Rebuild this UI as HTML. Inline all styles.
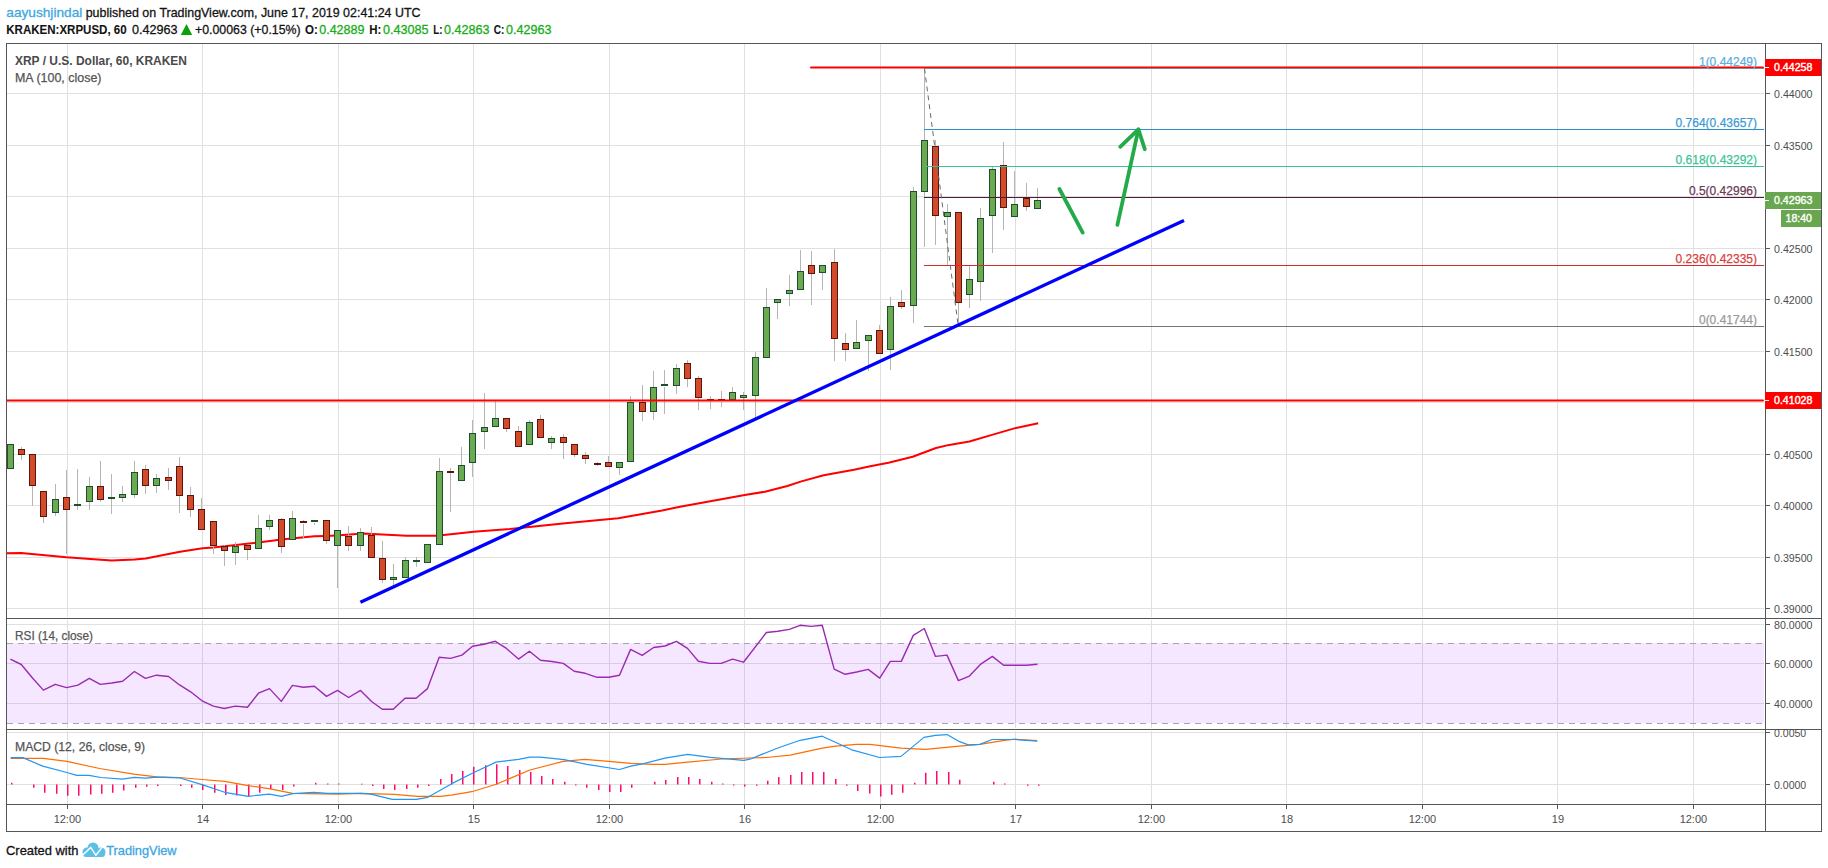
<!DOCTYPE html>
<html><head><meta charset="utf-8"><title>XRPUSD chart</title>
<style>
html,body{margin:0;padding:0;background:#fff;}
body{width:1828px;height:868px;overflow:hidden;position:relative;font-family:"Liberation Sans",sans-serif;}
svg text{font-family:"Liberation Sans",sans-serif;}
</style></head><body>
<svg width="1828" height="868" viewBox="0 0 1828 868" style="position:absolute;left:0;top:0">
<path d="M67.5 44V617M67.5 620V728M67.5 731V804 M202.5 44V617M202.5 620V728M202.5 731V804 M338.5 44V617M338.5 620V728M338.5 731V804 M473.5 44V617M473.5 620V728M473.5 731V804 M609.5 44V617M609.5 620V728M609.5 731V804 M744.5 44V617M744.5 620V728M744.5 731V804 M880.5 44V617M880.5 620V728M880.5 731V804 M1015.5 44V617M1015.5 620V728M1015.5 731V804 M1151.5 44V617M1151.5 620V728M1151.5 731V804 M1286.5 44V617M1286.5 620V728M1286.5 731V804 M1422.5 44V617M1422.5 620V728M1422.5 731V804 M1557.5 44V617M1557.5 620V728M1557.5 731V804 M1693.5 44V617M1693.5 620V728M1693.5 731V804 M7 93.5H1764 M7 145.5H1764 M7 196.5H1764 M7 248.5H1764 M7 299.5H1764 M7 351.5H1764 M7 402.5H1764 M7 454.5H1764 M7 505.5H1764 M7 557.5H1764 M7 608.5H1764 M7 624.5H1764 M7 663.5H1764 M7 703.5H1764 M7 732.5H1764 M7 784.5H1764" stroke="#e0e0e0" stroke-width="1" fill="none" shape-rendering="crispEdges"/>
<rect x="7" y="643" width="1757" height="80" fill="#9915ff" fill-opacity="0.1" shape-rendering="crispEdges"/>
<path d="M7 643.5H1764M7 723.5H1764" stroke="#aaa2b2" stroke-width="1" stroke-dasharray="6 5" fill="none" shape-rendering="crispEdges"/>
<polyline points="6.0,553.2 21.2,553.0 66.4,557.3 90.4,559.0 111.6,560.6 134.7,559.5 145.7,558.4 180.0,551.8 202.6,548.3 213.5,547.4 258.5,542.4 281.4,539.6 314.4,536.3 326.4,535.9 340.0,535.2 363.0,533.4 406.8,535.7 436.8,535.7 473.7,531.7 510.0,529.0 565.3,523.2 618.3,518.2 662.1,510.5 680.0,506.7 744.8,495.1 765.0,491.7 787.3,486.0 801.4,481.4 823.7,475.3 854.0,469.8 870.2,466.2 888.5,462.7 912.7,456.7 936.0,448.0 949.2,444.9 969.4,441.5 993.7,434.4 1016.0,427.9 1038.2,423.3" fill="none" stroke="#ff0000" stroke-width="2" stroke-linejoin="round"/>
<path d="M21.5 447V449 M21.5 454V460 M32.5 485V506 M43.5 516V523 M55.5 484V499 M55.5 513V516 M66.5 470V497 M66.5 510V554 M77.5 469V504 M77.5 506V510 M89.5 477V486 M89.5 502V510 M100.5 461V486 M100.5 500V502 M111.5 474V497 M111.5 499V514 M122.5 486V494 M122.5 498V502 M134.5 461V472 M134.5 495V498 M145.5 465V469 M145.5 485V494 M156.5 474V478 M156.5 485V493 M168.5 468V477 M168.5 480V490 M179.5 457V466 M179.5 495V513 M190.5 487V495 M190.5 510V517 M201.5 498V509 M213.5 546V554 M224.5 545V546 M224.5 551V566 M235.5 542V546 M235.5 552V565 M247.5 550V560 M258.5 515V528 M269.5 515V520 M269.5 527V530 M281.5 518V519 M281.5 547V553 M292.5 511V518 M303.5 520V521 M303.5 524V539 M314.5 523V525 M326.5 540V544 M337.5 546V588 M348.5 526V536 M348.5 546V551 M360.5 528V532 M360.5 546V551 M371.5 527V535 M382.5 541V558 M382.5 579V583 M393.5 564V577 M393.5 580V585 M405.5 557V560 M416.5 557V560 M416.5 562V567 M439.5 458V471 M450.5 468V471 M450.5 473V512 M461.5 447V465 M472.5 420V433 M472.5 463V477 M484.5 393V427 M484.5 432V449 M495.5 401V418 M506.5 429V432 M518.5 426V431 M529.5 420V422 M540.5 415V419 M551.5 436V438 M551.5 442V449 M563.5 434V437 M563.5 443V459 M574.5 454V457 M585.5 452V455 M585.5 459V464 M597.5 462V463 M597.5 465V466 M608.5 456V462 M619.5 467V475 M630.5 396V402 M642.5 385V402 M642.5 411V421 M653.5 371V387 M653.5 411V420 M664.5 370V384 M664.5 387V414 M676.5 364V368 M676.5 385V394 M687.5 360V363 M687.5 378V387 M698.5 376V378 M698.5 398V410 M710.5 396V399 M710.5 401V409 M721.5 391V400 M721.5 402V407 M732.5 387V392 M743.5 392V395 M743.5 398V410 M755.5 352V357 M755.5 396V418 M766.5 288V307 M777.5 302V319 M789.5 275V290 M789.5 294V306 M800.5 250V271 M811.5 251V265 M811.5 273V305 M822.5 272V290 M834.5 249V262 M834.5 339V361 M845.5 333V343 M845.5 350V361 M856.5 320V342 M868.5 341V371 M879.5 325V330 M890.5 297V306 M890.5 350V370 M901.5 290V302 M901.5 306V309 M913.5 187V191 M913.5 306V323 M924.5 68V140 M924.5 192V247 M935.5 140V146 M935.5 216V245 M947.5 204V212 M947.5 216V266 M958.5 302V327 M969.5 266V279 M969.5 294V308 M980.5 208V218 M980.5 282V301 M992.5 167V169 M992.5 216V253 M1003.5 142V165 M1003.5 208V230 M1014.5 171V204 M1026.5 183V198 M1026.5 206V211 M1037.5 188V200" stroke="#b5b5b5" stroke-width="1" fill="none" shape-rendering="crispEdges"/>
<rect x="7.5" y="444.5" width="6" height="24" fill="#6aab52" stroke="#1f4d2d" stroke-width="1" shape-rendering="crispEdges"/>
<rect x="18.5" y="449.5" width="6" height="5" fill="#d24b2b" stroke="#5c140d" stroke-width="1" shape-rendering="crispEdges"/>
<rect x="29.5" y="454.5" width="6" height="31" fill="#d24b2b" stroke="#5c140d" stroke-width="1" shape-rendering="crispEdges"/>
<rect x="40.5" y="491.5" width="6" height="25" fill="#d24b2b" stroke="#5c140d" stroke-width="1" shape-rendering="crispEdges"/>
<rect x="52.5" y="499.5" width="6" height="13" fill="#6aab52" stroke="#1f4d2d" stroke-width="1" shape-rendering="crispEdges"/>
<rect x="63.5" y="497.5" width="6" height="12" fill="#d24b2b" stroke="#5c140d" stroke-width="1" shape-rendering="crispEdges"/>
<rect x="74" y="504" width="7" height="2" fill="#1f4d2d" shape-rendering="crispEdges"/>
<rect x="86.5" y="486.5" width="6" height="15" fill="#6aab52" stroke="#1f4d2d" stroke-width="1" shape-rendering="crispEdges"/>
<rect x="97.5" y="486.5" width="6" height="13" fill="#d24b2b" stroke="#5c140d" stroke-width="1" shape-rendering="crispEdges"/>
<rect x="108" y="497" width="7" height="2" fill="#1f4d2d" shape-rendering="crispEdges"/>
<rect x="119.5" y="494.5" width="6" height="3" fill="#6aab52" stroke="#1f4d2d" stroke-width="1" shape-rendering="crispEdges"/>
<rect x="131.5" y="472.5" width="6" height="22" fill="#6aab52" stroke="#1f4d2d" stroke-width="1" shape-rendering="crispEdges"/>
<rect x="142.5" y="469.5" width="6" height="16" fill="#d24b2b" stroke="#5c140d" stroke-width="1" shape-rendering="crispEdges"/>
<rect x="153.5" y="478.5" width="6" height="7" fill="#6aab52" stroke="#1f4d2d" stroke-width="1" shape-rendering="crispEdges"/>
<rect x="165.5" y="477.5" width="6" height="3" fill="#d24b2b" stroke="#5c140d" stroke-width="1" shape-rendering="crispEdges"/>
<rect x="176.5" y="466.5" width="6" height="29" fill="#d24b2b" stroke="#5c140d" stroke-width="1" shape-rendering="crispEdges"/>
<rect x="187.5" y="495.5" width="6" height="14" fill="#d24b2b" stroke="#5c140d" stroke-width="1" shape-rendering="crispEdges"/>
<rect x="198.5" y="509.5" width="6" height="20" fill="#d24b2b" stroke="#5c140d" stroke-width="1" shape-rendering="crispEdges"/>
<rect x="210.5" y="521.5" width="6" height="24" fill="#d24b2b" stroke="#5c140d" stroke-width="1" shape-rendering="crispEdges"/>
<rect x="221.5" y="546.5" width="6" height="4" fill="#d24b2b" stroke="#5c140d" stroke-width="1" shape-rendering="crispEdges"/>
<rect x="232.5" y="546.5" width="6" height="6" fill="#6aab52" stroke="#1f4d2d" stroke-width="1" shape-rendering="crispEdges"/>
<rect x="244.5" y="545.5" width="6" height="4" fill="#d24b2b" stroke="#5c140d" stroke-width="1" shape-rendering="crispEdges"/>
<rect x="255.5" y="528.5" width="6" height="20" fill="#6aab52" stroke="#1f4d2d" stroke-width="1" shape-rendering="crispEdges"/>
<rect x="266.5" y="520.5" width="6" height="6" fill="#6aab52" stroke="#1f4d2d" stroke-width="1" shape-rendering="crispEdges"/>
<rect x="278.5" y="519.5" width="6" height="27" fill="#d24b2b" stroke="#5c140d" stroke-width="1" shape-rendering="crispEdges"/>
<rect x="289.5" y="518.5" width="6" height="21" fill="#6aab52" stroke="#1f4d2d" stroke-width="1" shape-rendering="crispEdges"/>
<rect x="300" y="521" width="7" height="2" fill="#5c140d" shape-rendering="crispEdges"/>
<rect x="311" y="520" width="7" height="2" fill="#1f4d2d" shape-rendering="crispEdges"/>
<rect x="323.5" y="520.5" width="6" height="20" fill="#d24b2b" stroke="#5c140d" stroke-width="1" shape-rendering="crispEdges"/>
<rect x="334.5" y="530.5" width="6" height="15" fill="#6aab52" stroke="#1f4d2d" stroke-width="1" shape-rendering="crispEdges"/>
<rect x="345.5" y="536.5" width="6" height="9" fill="#d24b2b" stroke="#5c140d" stroke-width="1" shape-rendering="crispEdges"/>
<rect x="357.5" y="532.5" width="6" height="13" fill="#6aab52" stroke="#1f4d2d" stroke-width="1" shape-rendering="crispEdges"/>
<rect x="368.5" y="535.5" width="6" height="22" fill="#d24b2b" stroke="#5c140d" stroke-width="1" shape-rendering="crispEdges"/>
<rect x="379.5" y="558.5" width="6" height="21" fill="#d24b2b" stroke="#5c140d" stroke-width="1" shape-rendering="crispEdges"/>
<rect x="390.5" y="577.5" width="6" height="2" fill="#6aab52" stroke="#1f4d2d" stroke-width="1" shape-rendering="crispEdges"/>
<rect x="402.5" y="560.5" width="6" height="17" fill="#6aab52" stroke="#1f4d2d" stroke-width="1" shape-rendering="crispEdges"/>
<rect x="413" y="560" width="7" height="2" fill="#1f4d2d" shape-rendering="crispEdges"/>
<rect x="424.5" y="544.5" width="6" height="18" fill="#6aab52" stroke="#1f4d2d" stroke-width="1" shape-rendering="crispEdges"/>
<rect x="436.5" y="471.5" width="6" height="73" fill="#6aab52" stroke="#1f4d2d" stroke-width="1" shape-rendering="crispEdges"/>
<rect x="447" y="471" width="7" height="2" fill="#5c140d" shape-rendering="crispEdges"/>
<rect x="458.5" y="465.5" width="6" height="15" fill="#6aab52" stroke="#1f4d2d" stroke-width="1" shape-rendering="crispEdges"/>
<rect x="469.5" y="433.5" width="6" height="29" fill="#6aab52" stroke="#1f4d2d" stroke-width="1" shape-rendering="crispEdges"/>
<rect x="481.5" y="427.5" width="6" height="4" fill="#6aab52" stroke="#1f4d2d" stroke-width="1" shape-rendering="crispEdges"/>
<rect x="492.5" y="418.5" width="6" height="8" fill="#6aab52" stroke="#1f4d2d" stroke-width="1" shape-rendering="crispEdges"/>
<rect x="503.5" y="418.5" width="6" height="10" fill="#d24b2b" stroke="#5c140d" stroke-width="1" shape-rendering="crispEdges"/>
<rect x="515.5" y="431.5" width="6" height="15" fill="#d24b2b" stroke="#5c140d" stroke-width="1" shape-rendering="crispEdges"/>
<rect x="526.5" y="422.5" width="6" height="22" fill="#6aab52" stroke="#1f4d2d" stroke-width="1" shape-rendering="crispEdges"/>
<rect x="537.5" y="419.5" width="6" height="18" fill="#d24b2b" stroke="#5c140d" stroke-width="1" shape-rendering="crispEdges"/>
<rect x="548.5" y="438.5" width="6" height="4" fill="#6aab52" stroke="#1f4d2d" stroke-width="1" shape-rendering="crispEdges"/>
<rect x="560.5" y="437.5" width="6" height="5" fill="#d24b2b" stroke="#5c140d" stroke-width="1" shape-rendering="crispEdges"/>
<rect x="571.5" y="444.5" width="6" height="10" fill="#d24b2b" stroke="#5c140d" stroke-width="1" shape-rendering="crispEdges"/>
<rect x="582.5" y="455.5" width="6" height="3" fill="#d24b2b" stroke="#5c140d" stroke-width="1" shape-rendering="crispEdges"/>
<rect x="594" y="463" width="7" height="2" fill="#5c140d" shape-rendering="crispEdges"/>
<rect x="605.5" y="462.5" width="6" height="4" fill="#d24b2b" stroke="#5c140d" stroke-width="1" shape-rendering="crispEdges"/>
<rect x="616.5" y="462.5" width="6" height="5" fill="#6aab52" stroke="#1f4d2d" stroke-width="1" shape-rendering="crispEdges"/>
<rect x="627.5" y="402.5" width="6" height="59" fill="#6aab52" stroke="#1f4d2d" stroke-width="1" shape-rendering="crispEdges"/>
<rect x="639.5" y="402.5" width="6" height="9" fill="#d24b2b" stroke="#5c140d" stroke-width="1" shape-rendering="crispEdges"/>
<rect x="650.5" y="387.5" width="6" height="24" fill="#6aab52" stroke="#1f4d2d" stroke-width="1" shape-rendering="crispEdges"/>
<rect x="661" y="384" width="7" height="2" fill="#1f4d2d" shape-rendering="crispEdges"/>
<rect x="673.5" y="368.5" width="6" height="17" fill="#6aab52" stroke="#1f4d2d" stroke-width="1" shape-rendering="crispEdges"/>
<rect x="684.5" y="363.5" width="6" height="15" fill="#d24b2b" stroke="#5c140d" stroke-width="1" shape-rendering="crispEdges"/>
<rect x="695.5" y="378.5" width="6" height="19" fill="#d24b2b" stroke="#5c140d" stroke-width="1" shape-rendering="crispEdges"/>
<rect x="707" y="399" width="7" height="2" fill="#5c140d" shape-rendering="crispEdges"/>
<rect x="718" y="399" width="7" height="2" fill="#5c140d" shape-rendering="crispEdges"/>
<rect x="729.5" y="392.5" width="6" height="7" fill="#6aab52" stroke="#1f4d2d" stroke-width="1" shape-rendering="crispEdges"/>
<rect x="740.5" y="395.5" width="6" height="2" fill="#6aab52" stroke="#1f4d2d" stroke-width="1" shape-rendering="crispEdges"/>
<rect x="752.5" y="357.5" width="6" height="38" fill="#6aab52" stroke="#1f4d2d" stroke-width="1" shape-rendering="crispEdges"/>
<rect x="763.5" y="307.5" width="6" height="50" fill="#6aab52" stroke="#1f4d2d" stroke-width="1" shape-rendering="crispEdges"/>
<rect x="774.5" y="299.5" width="6" height="3" fill="#6aab52" stroke="#1f4d2d" stroke-width="1" shape-rendering="crispEdges"/>
<rect x="786.5" y="290.5" width="6" height="3" fill="#6aab52" stroke="#1f4d2d" stroke-width="1" shape-rendering="crispEdges"/>
<rect x="797.5" y="271.5" width="6" height="18" fill="#6aab52" stroke="#1f4d2d" stroke-width="1" shape-rendering="crispEdges"/>
<rect x="808.5" y="265.5" width="6" height="8" fill="#d24b2b" stroke="#5c140d" stroke-width="1" shape-rendering="crispEdges"/>
<rect x="819.5" y="265.5" width="6" height="7" fill="#6aab52" stroke="#1f4d2d" stroke-width="1" shape-rendering="crispEdges"/>
<rect x="831.5" y="262.5" width="6" height="76" fill="#d24b2b" stroke="#5c140d" stroke-width="1" shape-rendering="crispEdges"/>
<rect x="842.5" y="343.5" width="6" height="6" fill="#d24b2b" stroke="#5c140d" stroke-width="1" shape-rendering="crispEdges"/>
<rect x="853.5" y="342.5" width="6" height="6" fill="#6aab52" stroke="#1f4d2d" stroke-width="1" shape-rendering="crispEdges"/>
<rect x="865.5" y="335.5" width="6" height="5" fill="#6aab52" stroke="#1f4d2d" stroke-width="1" shape-rendering="crispEdges"/>
<rect x="876.5" y="330.5" width="6" height="23" fill="#d24b2b" stroke="#5c140d" stroke-width="1" shape-rendering="crispEdges"/>
<rect x="887.5" y="306.5" width="6" height="43" fill="#6aab52" stroke="#1f4d2d" stroke-width="1" shape-rendering="crispEdges"/>
<rect x="898.5" y="302.5" width="6" height="4" fill="#d24b2b" stroke="#5c140d" stroke-width="1" shape-rendering="crispEdges"/>
<rect x="910.5" y="191.5" width="6" height="114" fill="#6aab52" stroke="#1f4d2d" stroke-width="1" shape-rendering="crispEdges"/>
<rect x="921.5" y="140.5" width="6" height="51" fill="#6aab52" stroke="#1f4d2d" stroke-width="1" shape-rendering="crispEdges"/>
<rect x="932.5" y="146.5" width="6" height="69" fill="#d24b2b" stroke="#5c140d" stroke-width="1" shape-rendering="crispEdges"/>
<rect x="944.5" y="212.5" width="6" height="4" fill="#6aab52" stroke="#1f4d2d" stroke-width="1" shape-rendering="crispEdges"/>
<rect x="955.5" y="212.5" width="6" height="90" fill="#d24b2b" stroke="#5c140d" stroke-width="1" shape-rendering="crispEdges"/>
<rect x="966.5" y="279.5" width="6" height="15" fill="#6aab52" stroke="#1f4d2d" stroke-width="1" shape-rendering="crispEdges"/>
<rect x="977.5" y="218.5" width="6" height="63" fill="#6aab52" stroke="#1f4d2d" stroke-width="1" shape-rendering="crispEdges"/>
<rect x="989.5" y="169.5" width="6" height="46" fill="#6aab52" stroke="#1f4d2d" stroke-width="1" shape-rendering="crispEdges"/>
<rect x="1000.5" y="165.5" width="6" height="42" fill="#d24b2b" stroke="#5c140d" stroke-width="1" shape-rendering="crispEdges"/>
<rect x="1011.5" y="204.5" width="6" height="12" fill="#6aab52" stroke="#1f4d2d" stroke-width="1" shape-rendering="crispEdges"/>
<rect x="1023.5" y="198.5" width="6" height="8" fill="#d24b2b" stroke="#5c140d" stroke-width="1" shape-rendering="crispEdges"/>
<rect x="1034.5" y="200.5" width="6" height="8" fill="#6aab52" stroke="#1f4d2d" stroke-width="1" shape-rendering="crispEdges"/>
<path d="M811 67.5H1763M7 400.5H1763" stroke="#ff0000" stroke-width="2" stroke-linecap="round" fill="none"/>
<path d="M924 68.5H1764" stroke="#8a8a8a" stroke-width="1" shape-rendering="crispEdges"/>
<path d="M924 129.5H1764" stroke="#2a8fd0" stroke-width="1" shape-rendering="crispEdges"/>
<path d="M924 166.5H1764" stroke="#36c495" stroke-width="1" shape-rendering="crispEdges"/>
<path d="M924 197.5H1764" stroke="#4e1b3a" stroke-width="1" shape-rendering="crispEdges"/>
<path d="M924 265.5H1764" stroke="#d42a2a" stroke-width="1" shape-rendering="crispEdges"/>
<path d="M924 326.5H1764" stroke="#757575" stroke-width="1" shape-rendering="crispEdges"/>
<path d="M924.5 68.5L958.3 326.5" stroke="#6a6a6a" stroke-width="1" stroke-dasharray="5 4" fill="none"/>
<path d="M360.4 602.2L1184 220.4" stroke="#0000ff" stroke-width="3.3" fill="none"/>
<g stroke="#22ab48" stroke-width="3.8" stroke-linecap="round" stroke-linejoin="round" fill="none"><path d="M1059.4 189L1082.7 232.6"/><path d="M1117.4 224.8L1138.4 129.4"/><path d="M1120.2 146.8L1138.4 129.4L1144.8 149.2"/></g>
<polyline points="10.4,659.1 21.3,664.5 32.7,678.3 43.4,690.1 55.2,684.3 66.6,687.6 77.9,685.1 89.3,678.3 100.3,684.4 111.7,683.0 122.6,681.2 134.4,671.5 145.4,678.3 156.5,675.2 168.6,676.5 179.2,684.7 190.6,691.8 202.0,700.8 213.4,706.1 224.3,708.5 235.4,706.1 247.5,707.2 258.5,693.2 269.5,688.6 281.3,701.4 292.4,685.4 303.3,687.3 314.4,686.3 326.5,696.4 337.5,690.4 348.6,697.5 360.5,690.4 371.6,701.5 382.3,709.3 393.2,709.3 405.0,698.2 416.1,698.2 427.5,688.6 439.2,657.3 450.6,658.4 461.9,655.1 472.6,646.3 484.0,644.2 495.4,641.3 506.4,648.4 518.5,659.1 529.4,651.3 540.5,660.3 551.9,661.5 563.3,663.4 574.2,671.2 585.3,673.3 597.1,677.3 608.8,677.3 619.5,675.2 630.6,649.4 642.2,655.3 653.6,647.5 665.0,646.0 676.4,641.3 687.5,648.4 698.4,661.2 709.8,663.4 721.2,663.4 732.6,659.1 743.5,662.2 766.4,632.5 777.9,631.3 789.4,629.4 800.1,625.3 811.1,626.4 822.2,625.3 834.2,669.1 845.2,674.3 856.7,672.0 868.2,669.4 879.7,678.1 890.3,661.4 901.3,661.4 913.3,635.4 924.3,628.5 935.5,656.4 947.0,655.1 958.4,680.6 969.4,676.1 981.1,663.8 992.4,656.4 1003.6,665.3 1014.6,665.3 1026.5,665.3 1037.5,664.2" fill="none" stroke="#9a2bb0" stroke-width="1.4" stroke-linejoin="round"/>
<path d="M11.75 784.5V782.8 M33.75 784.5V787.7 M44.75 784.5V792.7 M56.75 784.5V793.7 M67.75 784.5V795.8 M78.75 784.5V795.8 M90.75 784.5V794.6 M101.75 784.5V793.7 M112.75 784.5V792.7 M123.75 784.5V790.6 M135.75 784.5V787.7 M146.75 784.5V786.7 M157.75 784.5V785.9 M180.75 784.5V785.9 M191.75 784.5V787.7 M202.75 784.5V789.9 M214.75 784.5V792.7 M225.75 784.5V794.9 M236.75 784.5V795.6 M248.75 784.5V796.3 M259.75 784.5V792.7 M270.75 784.5V789.2 M282.75 784.5V789.9 M293.75 784.5V786.6 M315.75 784.5V782.8 M327.75 784.5V783.5 M338.75 784.5V783.5 M361.75 784.5V783.8 M372.75 784.5V785.9 M383.75 784.5V788.9 M394.75 784.5V789.9 M406.75 784.5V788.9 M417.75 784.5V787.7 M428.75 784.5V785.9 M440.75 784.5V778.9 M451.75 784.5V773.9 M462.75 784.5V771.0 M473.75 784.5V766.8 M485.75 784.5V765.3 M496.75 784.5V764.3 M507.75 784.5V766.0 M519.75 784.5V770.0 M530.75 784.5V772.1 M541.75 784.5V776.1 M552.75 784.5V778.9 M564.75 784.5V781.8 M575.75 784.5V785.5 M586.75 784.5V787.7 M598.75 784.5V789.9 M609.75 784.5V792.0 M620.75 784.5V792.0 M631.75 784.5V787.7 M654.75 784.5V781.8 M665.75 784.5V780.0 M677.75 784.5V777.1 M688.75 784.5V777.1 M699.75 784.5V778.9 M711.75 784.5V781.8 M722.75 784.5V783.5 M733.75 784.5V785.5 M744.75 784.5V786.6 M756.75 784.5V785.8 M767.75 784.5V780.8 M778.75 784.5V776.9 M790.75 784.5V775.1 M801.75 784.5V772.0 M812.75 784.5V772.0 M823.75 784.5V772.0 M835.75 784.5V778.9 M846.75 784.5V785.8 M857.75 784.5V790.9 M869.75 784.5V793.6 M880.75 784.5V796.6 M891.75 784.5V794.8 M902.75 784.5V792.8 M914.75 784.5V782.7 M925.75 784.5V772.8 M936.75 784.5V771.0 M948.75 784.5V772.0 M959.75 784.5V779.7 M993.75 784.5V781.8 M1004.75 784.5V783.5 M1027.75 784.5V785.8 M1038.75 784.5V785.8" stroke="#ff0a6c" stroke-width="1.5" fill="none"/>
<polyline points="10.7,758.3 43.4,758.3 66.9,761.4 99.6,768.5 133.7,774.2 156.5,776.8 179.2,777.5 202.0,779.5 224.7,781.3 248.2,785.6 270.3,788.9 292.7,793.4 338.5,794.1 360.9,793.4 394.4,794.4 417.4,796.3 440.3,796.3 451.3,795.1 473.3,791.3 496.3,784.2 529.9,770.0 563.3,761.4 584.6,759.3 608.8,761.4 630.9,763.3 653.6,764.3 665.0,764.3 687.8,762.1 721.9,759.0 750.0,758.0 766.4,757.5 790.2,755.1 822.2,748.2 835.3,746.1 856.7,744.4 869.8,744.4 901.0,748.2 925.3,749.3 959.3,746.1 979.8,744.4 1004.4,740.3 1015.0,739.2 1037.2,740.6" fill="none" stroke="#ff6d00" stroke-width="1.2" stroke-linejoin="round"/>
<polyline points="10.7,757.6 22.8,757.6 42.7,766.1 66.9,772.5 76.8,775.4 88.9,775.4 101.0,777.5 122.3,779.2 134.4,777.4 145.8,778.2 156.5,777.1 179.2,777.8 202.0,784.6 226.2,792.7 248.2,796.3 269.2,794.1 281.3,796.3 292.7,793.7 314.0,792.4 327.5,793.4 360.9,793.4 370.9,794.1 392.2,799.4 416.4,799.4 427.8,797.3 451.3,783.9 473.3,772.8 496.0,762.1 518.5,759.3 529.9,757.2 540.5,757.2 564.0,759.6 586.8,764.3 619.5,769.5 630.9,766.1 643.7,763.6 665.0,758.2 687.8,754.3 710.5,757.4 743.9,760.4 750.0,759.2 777.1,748.2 800.1,740.3 822.2,736.2 851.8,749.8 879.7,757.5 901.0,756.4 924.0,737.4 935.5,735.4 947.0,734.6 958.4,741.1 968.3,744.9 979.8,744.4 992.1,739.5 1014.2,739.5 1037.2,741.1" fill="none" stroke="#2196f3" stroke-width="1.2" stroke-linejoin="round"/>
<path d="M6.5 43.5H1821.5V831.5H6.5Z M1765.5 43V832 M6 618.5H1822 M6 729.5H1822 M6 804.5H1822" stroke="#555555" stroke-width="1" fill="none" shape-rendering="crispEdges"/>
<path d="M1766 93.5H1770 M1766 145.5H1770 M1766 248.5H1770 M1766 299.5H1770 M1766 351.5H1770 M1766 454.5H1770 M1766 505.5H1770 M1766 557.5H1770 M1766 608.5H1770 M1766 624.5H1770 M1766 663.5H1770 M1766 703.5H1770 M1766 732.5H1770 M1766 784.5H1770" stroke="#555555" stroke-width="1" shape-rendering="crispEdges"/>
<text x="1774" y="97.5" font-size="11" fill="#4d4d4d" textLength="38.5" lengthAdjust="spacingAndGlyphs">0.44000</text>
<text x="1774" y="149.5" font-size="11" fill="#4d4d4d" textLength="38.5" lengthAdjust="spacingAndGlyphs">0.43500</text>
<text x="1774" y="252.5" font-size="11" fill="#4d4d4d" textLength="38.5" lengthAdjust="spacingAndGlyphs">0.42500</text>
<text x="1774" y="303.5" font-size="11" fill="#4d4d4d" textLength="38.5" lengthAdjust="spacingAndGlyphs">0.42000</text>
<text x="1774" y="355.5" font-size="11" fill="#4d4d4d" textLength="38.5" lengthAdjust="spacingAndGlyphs">0.41500</text>
<text x="1774" y="458.5" font-size="11" fill="#4d4d4d" textLength="38.5" lengthAdjust="spacingAndGlyphs">0.40500</text>
<text x="1774" y="509.5" font-size="11" fill="#4d4d4d" textLength="38.5" lengthAdjust="spacingAndGlyphs">0.40000</text>
<text x="1774" y="561.5" font-size="11" fill="#4d4d4d" textLength="38.5" lengthAdjust="spacingAndGlyphs">0.39500</text>
<text x="1774" y="612.5" font-size="11" fill="#4d4d4d" textLength="38.5" lengthAdjust="spacingAndGlyphs">0.39000</text>
<text x="1774" y="628.5" font-size="11" fill="#4d4d4d" textLength="38.5" lengthAdjust="spacingAndGlyphs">80.0000</text>
<text x="1774" y="667.5" font-size="11" fill="#4d4d4d" textLength="38.5" lengthAdjust="spacingAndGlyphs">60.0000</text>
<text x="1774" y="707.5" font-size="11" fill="#4d4d4d" textLength="38.5" lengthAdjust="spacingAndGlyphs">40.0000</text>
<text x="1774" y="736.5" font-size="11" fill="#4d4d4d" textLength="32.2" lengthAdjust="spacingAndGlyphs">0.0050</text>
<text x="1774" y="788.5" font-size="11" fill="#4d4d4d" textLength="32.2" lengthAdjust="spacingAndGlyphs">0.0000</text>
<rect x="1765" y="59" width="56" height="17" fill="#ff0000"/><path d="M1765 67.5H1769" stroke="#fff" stroke-width="1" shape-rendering="crispEdges"/><text x="1774" y="70.5" font-size="11" fill="#fff" stroke="#fff" stroke-width="0.4" textLength="38.4" lengthAdjust="spacingAndGlyphs">0.44258</text>
<rect x="1765" y="392" width="56" height="17" fill="#ff0000"/><path d="M1765 400.5H1769" stroke="#fff" stroke-width="1" shape-rendering="crispEdges"/><text x="1774" y="403.5" font-size="11" fill="#fff" stroke="#fff" stroke-width="0.4" textLength="38.4" lengthAdjust="spacingAndGlyphs">0.41028</text>
<rect x="1765" y="192" width="56" height="17" fill="#68a74f"/><path d="M1765 200.5H1769" stroke="#fff" stroke-width="1" shape-rendering="crispEdges"/><text x="1774" y="203.5" font-size="11" fill="#fff" stroke="#fff" stroke-width="0.4" textLength="38.4" lengthAdjust="spacingAndGlyphs">0.42963</text>
<rect x="1781" y="210" width="40" height="17" fill="#68a74f"/><text x="1785.5" y="221.5" font-size="11" fill="#fff" stroke="#fff" stroke-width="0.4" textLength="26.5" lengthAdjust="spacingAndGlyphs">18:40</text>
<text x="67.4" y="823" font-size="11" fill="#4d4d4d" text-anchor="middle">12:00</text><text x="202.9" y="823" font-size="11" fill="#4d4d4d" text-anchor="middle">14</text><text x="338.4" y="823" font-size="11" fill="#4d4d4d" text-anchor="middle">12:00</text><text x="473.9" y="823" font-size="11" fill="#4d4d4d" text-anchor="middle">15</text><text x="609.4" y="823" font-size="11" fill="#4d4d4d" text-anchor="middle">12:00</text><text x="744.9" y="823" font-size="11" fill="#4d4d4d" text-anchor="middle">16</text><text x="880.4" y="823" font-size="11" fill="#4d4d4d" text-anchor="middle">12:00</text><text x="1015.9" y="823" font-size="11" fill="#4d4d4d" text-anchor="middle">17</text><text x="1151.4" y="823" font-size="11" fill="#4d4d4d" text-anchor="middle">12:00</text><text x="1286.9" y="823" font-size="11" fill="#4d4d4d" text-anchor="middle">18</text><text x="1422.4" y="823" font-size="11" fill="#4d4d4d" text-anchor="middle">12:00</text><text x="1557.9" y="823" font-size="11" fill="#4d4d4d" text-anchor="middle">19</text><text x="1693.4" y="823" font-size="11" fill="#4d4d4d" text-anchor="middle">12:00</text><path d="M67.5 805V809 M202.5 805V809 M338.5 805V809 M473.5 805V809 M609.5 805V809 M744.5 805V809 M880.5 805V809 M1015.5 805V809 M1151.5 805V809 M1286.5 805V809 M1422.5 805V809 M1557.5 805V809 M1693.5 805V809" stroke="#555555" stroke-width="1" shape-rendering="crispEdges"/>
<text x="1757" y="65.5" font-size="12" fill="#62acdd" stroke="#62acdd" stroke-width="0.25" text-anchor="end">1(0.44249)</text><text x="1757" y="126.5" font-size="12" fill="#3e9ad6" stroke="#3e9ad6" stroke-width="0.25" text-anchor="end">0.764(0.43657)</text><text x="1757" y="163.5" font-size="12" fill="#3cc496" stroke="#3cc496" stroke-width="0.25" text-anchor="end">0.618(0.43292)</text><text x="1757" y="194.5" font-size="12" fill="#6b3b57" stroke="#6b3b57" stroke-width="0.25" text-anchor="end">0.5(0.42996)</text><text x="1757" y="262.5" font-size="12" fill="#da3f3f" stroke="#da3f3f" stroke-width="0.25" text-anchor="end">0.236(0.42335)</text><text x="1757" y="323.5" font-size="12" fill="#9a9a9a" stroke="#9a9a9a" stroke-width="0.25" text-anchor="end">0(0.41744)</text>
<text x="15" y="65" font-size="12" font-weight="bold" fill="#4a4a4a" textLength="172" lengthAdjust="spacingAndGlyphs">XRP / U.S. Dollar, 60, KRAKEN</text>
<text x="15" y="82" font-size="12" fill="#555" stroke="#555" stroke-width="0.25" textLength="86.5" lengthAdjust="spacingAndGlyphs">MA (100, close)</text>
<text x="15" y="640" font-size="12" fill="#555" stroke="#555" stroke-width="0.25" textLength="78" lengthAdjust="spacingAndGlyphs">RSI (14, close)</text>
<text x="15" y="751" font-size="12" fill="#555" stroke="#555" stroke-width="0.25" textLength="130" lengthAdjust="spacingAndGlyphs">MACD (12, 26, close, 9)</text>
<text x="6.3" y="16.5" font-size="13" font-weight="normal" fill="#3fa9df" stroke="#3fa9df" stroke-width="0.3" textLength="76.0" lengthAdjust="spacingAndGlyphs">aayushjindal</text><text x="85.7" y="16.5" font-size="13" font-weight="normal" fill="#131313" stroke="#131313" stroke-width="0.3" textLength="334.8" lengthAdjust="spacingAndGlyphs">published on TradingView.com, June 17, 2019 02:41:24 UTC</text><text x="6.3" y="33.5" font-size="13" font-weight="bold" fill="#131313" stroke="#131313" stroke-width="0.1" textLength="120.3" lengthAdjust="spacingAndGlyphs">KRAKEN:XRPUSD, 60</text><text x="132" y="33.5" font-size="13" font-weight="normal" fill="#131313" stroke="#131313" stroke-width="0.3" textLength="45.6" lengthAdjust="spacingAndGlyphs">0.42963</text><path d="M180.8 35L186.5 24L192.2 35Z" fill="#0ca00c"/><text x="195" y="33.5" font-size="13" font-weight="normal" fill="#131313" stroke="#131313" stroke-width="0.3" textLength="105.6" lengthAdjust="spacingAndGlyphs">+0.00063 (+0.15%)</text><text x="305" y="33.5" font-size="13" font-weight="bold" fill="#131313" stroke="#131313" stroke-width="0.1" textLength="12.8" lengthAdjust="spacingAndGlyphs">O:</text><text x="319.2" y="33.5" font-size="13" font-weight="normal" fill="#17ad17" stroke="#17ad17" stroke-width="0.3" textLength="45.3" lengthAdjust="spacingAndGlyphs">0.42889</text><text x="369.3" y="33.5" font-size="13" font-weight="bold" fill="#131313" stroke="#131313" stroke-width="0.1" textLength="12.1" lengthAdjust="spacingAndGlyphs">H:</text><text x="383.1" y="33.5" font-size="13" font-weight="normal" fill="#17ad17" stroke="#17ad17" stroke-width="0.3" textLength="45.5" lengthAdjust="spacingAndGlyphs">0.43085</text><text x="433.3" y="33.5" font-size="13" font-weight="bold" fill="#131313" stroke="#131313" stroke-width="0.1" textLength="9.3" lengthAdjust="spacingAndGlyphs">L:</text><text x="443.9" y="33.5" font-size="13" font-weight="normal" fill="#17ad17" stroke="#17ad17" stroke-width="0.3" textLength="45.5" lengthAdjust="spacingAndGlyphs">0.42863</text><text x="493.8" y="33.5" font-size="13" font-weight="bold" fill="#131313" stroke="#131313" stroke-width="0.1" textLength="10.6" lengthAdjust="spacingAndGlyphs">C:</text><text x="506.1" y="33.5" font-size="13" font-weight="normal" fill="#17ad17" stroke="#17ad17" stroke-width="0.3" textLength="45.3" lengthAdjust="spacingAndGlyphs">0.42963</text>
<text x="6" y="855" font-size="13" font-weight="normal" fill="#131313" stroke="#131313" stroke-width="0.3" textLength="72.5" lengthAdjust="spacingAndGlyphs">Created with</text><g fill="#5bbfe6"><circle cx="93" cy="848" r="5.5"/><circle cx="87" cy="852" r="4.5"/><circle cx="101" cy="852" r="4.5"/><rect x="83" y="851" width="22" height="6" rx="3"/></g><path d="M82.6 855.3L90.7 847.4L95.9 855.3L102 847.4" stroke="#fff" stroke-width="1.4" fill="none"/><text x="106.2" y="855" font-size="13" font-weight="normal" fill="#3da7df" stroke="#3da7df" stroke-width="0.3" textLength="70.4" lengthAdjust="spacingAndGlyphs">TradingView</text>
</svg>
</body></html>
